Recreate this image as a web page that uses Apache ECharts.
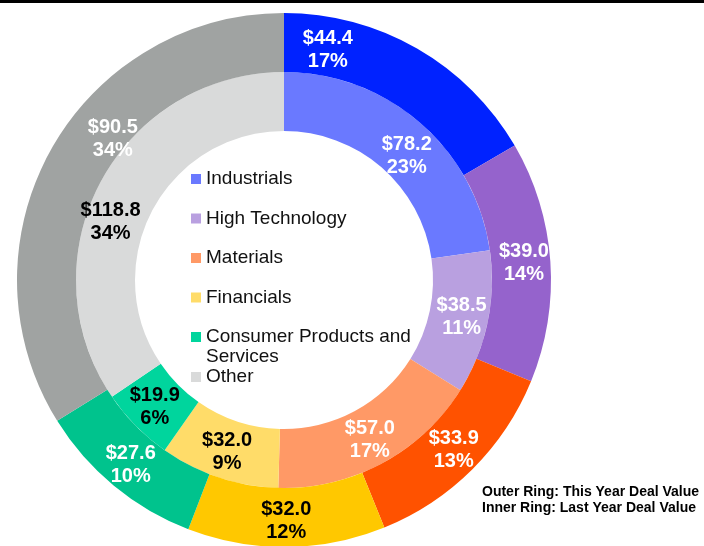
<!DOCTYPE html>
<html>
<head>
<meta charset="utf-8">
<script src="https://cdn.jsdelivr.net/npm/echarts@6/dist/echarts.min.js"></script>
<style>
html, body { margin: 0; padding: 0; background: #fff; }
#main { width: 704px; height: 546px; }
</style>
</head>
<body>
<div id="main"></div>
<script>
// sectors, same order in both rings (clockwise from 12 o'clock)
const sectors = ['Industrials', 'High Technology', 'Materials', 'Financials', 'Consumer Products and Services', 'Other']
const thisYear = [44.4, 39.0, 33.9, 32.0, 27.6, 90.5]   // outer ring
const lastYear = [78.2, 38.5, 57.0, 32.0, 19.9, 118.8]  // inner ring

const outerColors = ['#0022ff', '#9563cc', '#ff5200', '#ffc800', '#00c38d', '#a0a3a2']
const innerColors = ['#6a79ff', '#b9a0e0', '#ff9966', '#ffdc69', '#00d59d', '#d9dada']
const outerLabelColors = ['#fff', '#fff', '#fff', '#000', '#fff', '#fff']
const innerLabelColors = ['#fff', '#fff', '#fff', '#000', '#000', '#000']

// hand-moved labels in the original
const outerNudge = { 0: [-76, -22], 5: [39, -24] }
const innerNudge = { 0: [4, 13], 5: [-13, 27] }

const FONT = 'Liberation Sans, Arial, sans-serif'

function ringData (values, colors, labelColors) {
  return values.map((v, i) => ({
    name: sectors[i],
    value: v,
    itemStyle: { color: colors[i] },
    label: { color: labelColors[i] }
  }))
}

function ring (name, radius, values, colors, labelColors, nudge) {
  return {
    name: name,
    type: 'pie',
    center: [284, 280],
    radius: radius,
    startAngle: 90,
    clockwise: true,
    percentPrecision: 0,
    avoidLabelOverlap: false,
    silent: true,
    itemStyle: { borderWidth: 0 },
    label: {
      position: 'inside',
      fontFamily: FONT,
      fontSize: 20,
      fontWeight: 'bold',
      lineHeight: 23,
      formatter: p => '$' + p.value.toFixed(1) + '\n' + p.percent + '%'
    },
    labelLine: { show: false },
    labelLayout: p => {
      const n = nudge[p.dataIndex]
      return n ? { dx: n[0], dy: n[1] } : {}
    },
    data: ringData(values, colors, labelColors)
  }
}

function legendBox (names, top, extra) {
  return Object.assign({
    orient: 'vertical',
    left: 191,
    top: top,
    padding: 0,
    itemGap: 19.5,
    itemWidth: 10,
    itemHeight: 10,
    icon: 'rect',
    selectedMode: false,
    data: names,
    textStyle: {
      fontFamily: FONT,
      fontSize: 19,
      lineHeight: 20,
      color: '#111'
    }
  }, extra || {})
}

const chart = echarts.init(document.getElementById('main'))
chart.setOption({
  backgroundColor: '#fff',
  animation: false,
  legend: [
    legendBox(sectors.slice(0, 4), 169),
    // blank first line keeps the square level with "Consumer Products and"
    legendBox([sectors[4]], 307, {
      formatter: () => '\nConsumer Products and\nServices'
    }),
    legendBox([sectors[5]], 367)
  ],
  graphic: [
    { type: 'rect', left: 0, top: 0, shape: { width: 704, height: 3 }, style: { fill: '#000' } },
    {
      type: 'text',
      left: 482,
      top: 484,
      style: {
        text: 'Outer Ring: This Year Deal Value\nInner Ring: Last Year Deal Value',
        font: 'bold 14px ' + FONT,
        lineHeight: 16,
        fill: '#000'
      }
    }
  ],
  series: [
    ring('Last Year', [149, 208], lastYear, innerColors, innerLabelColors, innerNudge),
    ring('This Year', [208, 267], thisYear, outerColors, outerLabelColors, outerNudge)
  ]
})
</script>
</body>
</html>
